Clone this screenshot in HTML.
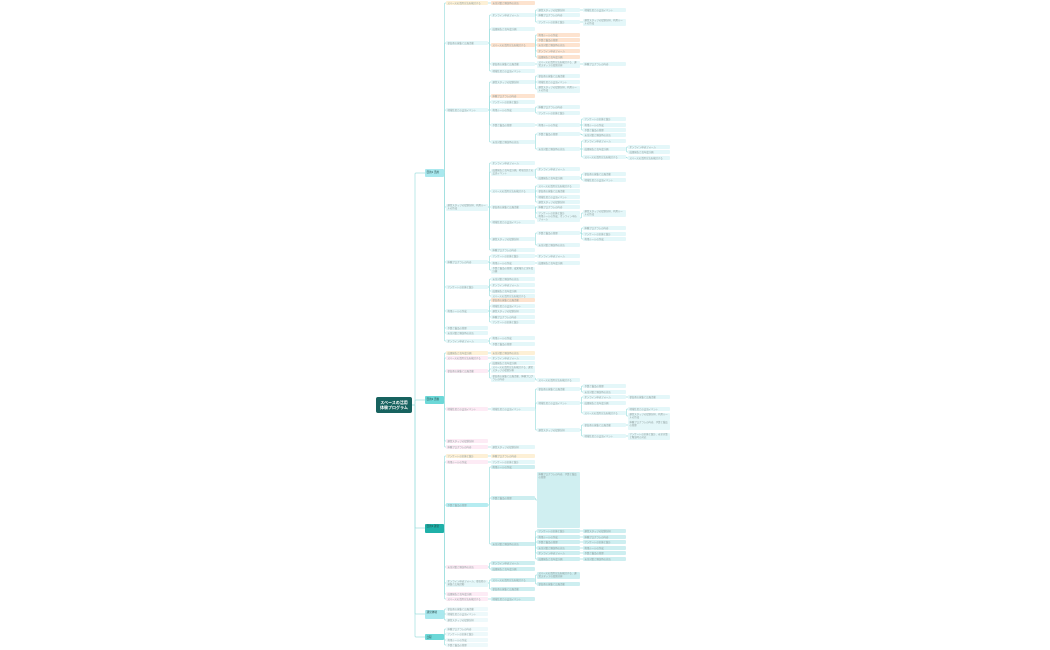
<!DOCTYPE html>
<html><head><meta charset="utf-8">
<style>
html,body{margin:0;padding:0;background:#fff;width:1050px;height:650px;overflow:hidden;position:relative;font-family:"Liberation Sans","Noto Sans CJK JP",sans-serif;}
.n{position:absolute;box-sizing:border-box;border-radius:1px;font-size:2.4px;line-height:3px;color:#8a9a9a;padding:0.6px 1.5px;overflow:hidden;white-space:normal;}
svg{position:absolute;left:0;top:0;}
</style></head><body>
<svg id="s" width="1050" height="650"></svg>
<div id="root" class="n" style="left:376px;top:397px;width:36px;height:16px;background:#17625f;color:#fff;font-size:4px;line-height:5px;font-weight:bold;padding:3px 2px;border-radius:2px;white-space:nowrap;text-align:center;">スペースの活用<br>体験プログラム</div>
<div id="c"></div>
<script>
var cols={1:[425,19],2:[446,42],3:[491,44],4:[537,43],5:[583,43],6:[628,42]};
var C='#e4f7f9',P='#fde3cf',Y='#fdf0d6',K='#fdebf5',L='#eef9fb',T='#cdeef0',B='#b5ecf1';
var L1=[[173,8,'#a9e8ee','目的1 活用'],[400,8,'#6cd8d8','目的2 活動'],[528,9,'#1fb0a8','目的3 運営'],[614,9,'#a9e8ee','運営体制'],[637,6,'#6cd8d8','日程']];
var d={2:[[3,4,Y,173],[43,4,C,173],[110,4,C,173],[207,7,C,173],[262,4,C,173],[287,4,C,173],[311,4,C,173],[328,4,C,173],[333,4,C,173],[341,4,C,173],
[353,4,Y,400],[358,4,K,400],[371,4,K,400],[409,4,K,400],[441,4,K,400],[447,4,K,400],
[456,4,Y,528],[462,4,K,528],[505,4,B,528],[567,4,K,528],[583,7,C,528],[594,4,K,528],[599,4,K,528],
[609,4,L,614],[614,4,L,614],[620,4,L,614],[629,4,L,637],[634,4,L,637],[640,4,L,637],[645,4,L,637]],
3:[[3,4,P,3],[15,4,C,43],[29,4,C,43],[45,4,P,43],[64,4,C,43],[71,4,C,43],
[82,4,C,110],[96,4,P,110],[102,4,C,110],[110,4,C,110],[125,4,C,110],[142,4,C,110],
[163,4,C,207],[172,7,C,207],[191,4,C,207],[207,4,C,207],[222,4,C,207],[239,4,C,207],[250,4,C,207],
[256,4,C,262],[263,4,C,262],[270,7,C,262],[279,4,C,287],[285,4,C,287],[291,4,C,287],[296,4,C,287],
[300,4,P,311],[306,4,C,311],[311,4,C,311],[317,4,C,311],[322,4,C,311],[338,4,C,341],[344,4,C,341],
[353,4,Y,353],[358,4,C,358],[363,4,C,371],[369,7,C,371],[378,7,C,371],[409,4,C,409],[447,4,C,447],
[456,4,Y,456],[462,4,C,462],[467,4,T,505],[498,4,T,505],[544,4,T,505],[563,4,T,567],[569,4,T,567],[580,4,T,583],[589,4,T,583],[599,4,T,599]],
4:[[10,4,C,15],[15,4,C,15],[22,4,C,15],[35,4,P,45],[40,4,P,45],[45,4,P,45],[51,4,P,45],[57,4,P,45],[64,7,C,64],
[76,4,C,82],[82,4,C,82],[89,7,C,82],[107,4,C,110],[113,4,C,110],[125,4,C,125],[134,4,C,142],[149,4,C,142],
[169,4,C,172],[178,4,C,172],[186,4,C,191],[191,4,C,191],[197,4,C,191],[202,4,C,191],[207,4,C,207],[213,4,C,207],[218,7,C,207],
[233,4,C,239],[245,4,C,239],[256,4,C,256],[263,4,C,263],[380,4,C,378],[389,4,C,409],[403,4,C,409],[430,4,C,409],
[500,56,'#d0eff1',498],[531,4,T,544],[537,4,T,544],[542,4,T,544],[548,4,T,544],[553,4,T,544],[559,4,T,544],[575,7,T,580],[584,4,T,580]],
5:[[10,4,C,10],[22,7,C,22],[64,4,C,64],[119,4,C,125],[125,4,C,125],[130,4,C,125],[135,4,C,134],[141,4,C,149],[149,4,C,149],[157,4,C,149],
[174,4,C,178],[180,4,C,178],[213,7,C,218],[228,4,C,233],[234,4,C,233],[239,4,C,233],
[386,4,C,389],[392,4,C,389],[397,4,C,403],[403,4,C,403],[413,4,C,403],[425,4,C,430],[436,4,C,430],
[531,4,T,531],[537,4,T,537],[542,4,T,542],[548,4,T,548],[553,4,T,553],[559,4,T,559]],
6:[[147,4,C,149],[152,4,C,149],[158,4,C,157],[397,4,C,397],[409,4,C,413],[416,7,C,413],[425,10,C,425],[436,7,C,436]]};
var words=['スペースの活用方法を検討する','参加者の募集と広報活動','地域住民との交流イベント','運営スタッフの役割分担','体験プログラムの内容','アンケートの実施と集計','利用ルールの作成','予算と備品の管理','安全対策と緊急時の対応','オンライン申込フォーム','成果報告と次年度計画'];
var svg=document.getElementById('s'),c=document.getElementById('c'),ns='http://www.w3.org/2000/svg';
function line(x1,y1,x2,y2,xm){var s=y2>y1?1:y2<y1?-1:0;var p=document.createElementNS(ns,'path');p.setAttribute('d','M'+x1+' '+y1+'H'+(xm-1)+'Q'+xm+' '+y1+' '+xm+' '+(y1+s)+'V'+(y2-s)+'Q'+xm+' '+y2+' '+(xm+1)+' '+y2+'H'+x2);p.setAttribute('stroke','#a2e0e0');p.setAttribute('stroke-width','0.7');p.setAttribute('fill','none');svg.appendChild(p);}
function box(x,y,w,h,col,t,extra){var e=document.createElement('div');e.className='n';e.style.cssText='left:'+x+'px;top:'+(y-h/2)+'px;width:'+w+'px;height:'+h+'px;background:'+col+';'+(extra||'');e.textContent=t;c.appendChild(e);}
var k=0;
L1.forEach(function(a){box(425,a[0],19,a[1],a[2],a[3],'font-size:2.6px;color:#244;padding-top:1.5px;');line(412,405,425,a[0],415);});
for(var ci=2;ci<=6;ci++){var cx=cols[ci][0],w=cols[ci][1],px=cols[ci-1][0]+cols[ci-1][1];
 d[ci].forEach(function(a){var t=words[k%words.length]+(a[1]>5?'、'+words[(k+3)%words.length]:'');k++;
  box(cx,a[0],w,a[1],a[2],t);
  line(px,a[3],cx,a[0],cx-1.5);});}
</script>
</body></html>
